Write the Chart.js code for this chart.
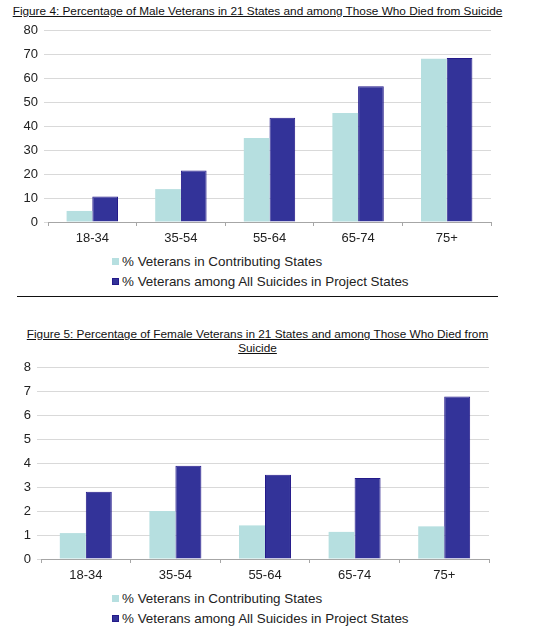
<!DOCTYPE html>
<html>
<head>
<meta charset="utf-8">
<script src="https://cdn.jsdelivr.net/npm/chart.js@4"></script>
<style>
  body { margin: 0; background: #fff; font-family: "Liberation Sans", Arial, sans-serif; }
  #page { position: relative; width: 549px; height: 640px; overflow: hidden; }
  .title { position: absolute; left: 0; width: 515px; text-align: center; font-size: 11.8px; color: #111; text-decoration: underline; line-height: 14px; }
  .wrap { position: absolute; left: 0; width: 549px; }
  .rule { position: absolute; left: 17px; width: 481px; top: 296px; height: 0; border-top: 1.5px solid #111; }
  .legend { position: absolute; left: 112px; font-size: 13.4px; color: #222; }
  .legend div { height: 20px; line-height: 20px; white-space: nowrap; }
  .legend span { display: inline-block; width: 7px; height: 7px; margin-right: 3px; vertical-align: 1px; box-sizing: border-box; }
</style>
</head>
<body>
<div id="page">
  <div class="title" style="top:4px">Figure 4: Percentage of Male Veterans in 21 States and among Those Who Died from Suicide</div>
  <div class="wrap" style="top:0; height:250px"><canvas id="maleChart"></canvas></div>
  <div class="legend" id="maleLegend" style="top:252px"></div>
  <div class="rule"></div>

  <div class="title" style="top:327px">Figure 5: Percentage of Female Veterans in 21 States and among Those Who Died from<br>Suicide</div>
  <div class="wrap" style="top:340px; height:247px"><canvas id="femaleChart"></canvas></div>
  <div class="legend" id="femaleLegend" style="top:589px"></div>
</div>

<script>
const ageGroups = ['18-34', '35-54', '55-64', '65-74', '75+'];
const seriesNames = ['% Veterans in Contributing States', '% Veterans among All Suicides in Project States'];

// Figure 4 - male
const maleContributing = [4.6, 13.7, 35.0, 45.4, 68.0];
const maleSuicides = [10.6, 21.5, 43.4, 56.6, 68.3];
const maleTicks = [0, 10, 20, 30, 40, 50, 60, 70, 80];

// Figure 5 - female
const femaleContributing = [1.08, 2.0, 1.4, 1.13, 1.36];
const femaleSuicides = [2.8, 3.89, 3.51, 3.37, 6.77];
const femaleTicks = [0, 1, 2, 3, 4, 5, 6, 7, 8];

const lightColor = '#b6dfe0';
const darkColor = '#333399';
const darkBorder = '#241a8a';

Chart.defaults.font.family = '"Liberation Sans", Arial, sans-serif';
Chart.defaults.font.size = 13;
Chart.defaults.color = '#222';

function makeChart(id, legendId, first, second, ticks, yWidth, padTop, padRight) {
  const chart = new Chart(document.getElementById(id).getContext('2d'), {
    type: 'bar',
    data: {
      labels: ageGroups,
      datasets: [
        {
          label: seriesNames[0],
          data: first,
          backgroundColor: lightColor,
          borderWidth: 0,
          categoryPercentage: 0.58,
          barPercentage: 1.0,
        },
        {
          label: seriesNames[1],
          data: second,
          backgroundColor: darkColor,
          borderColor: darkBorder,
          borderWidth: 1,
          categoryPercentage: 0.58,
          barPercentage: 1.0,
        },
      ],
    },
    options: {
      responsive: true,
      maintainAspectRatio: false,
      animation: false,
      layout: { padding: { top: padTop, right: padRight, left: 0, bottom: 0 } },
      plugins: { legend: { display: false }, tooltip: { enabled: false } },
      scales: {
        x: {
          grid: { drawOnChartArea: false, drawTicks: true, tickLength: 4, color: '#a6a6a6', offset: true },
          border: { display: true, color: '#a6a6a6' },
          ticks: { padding: 5, color: '#222' },
          afterFit: (scale) => { scale.height = 28; },
        },
        y: {
          min: ticks[0],
          max: ticks[ticks.length - 1],
          afterBuildTicks: (scale) => { scale.ticks = ticks.map(v => ({ value: v })); },
          grid: { color: '#d9d9d9', tickLength: 4 },
          border: { display: false },
          ticks: { padding: 6, color: '#222' },
          afterFit: (scale) => { scale.width = yWidth; },
        },
      },
    },
  });

  // simple legend stacked down the left, like the original
  const box = document.getElementById(legendId);
  chart.data.datasets.forEach(ds => {
    const row = document.createElement('div');
    const sw = document.createElement('span');
    sw.style.background = ds.backgroundColor;
    if (ds.borderWidth) sw.style.border = '1px solid ' + ds.borderColor;
    row.appendChild(sw);
    row.appendChild(document.createTextNode(ds.label));
    box.appendChild(row);
  });
  return chart;
}

makeChart('maleChart', 'maleLegend', maleContributing, maleSuicides, maleTicks, 48, 30, 58);
makeChart('femaleChart', 'femaleLegend', femaleContributing, femaleSuicides, femaleTicks, 41, 27, 60);
</script>
</body>
</html>
